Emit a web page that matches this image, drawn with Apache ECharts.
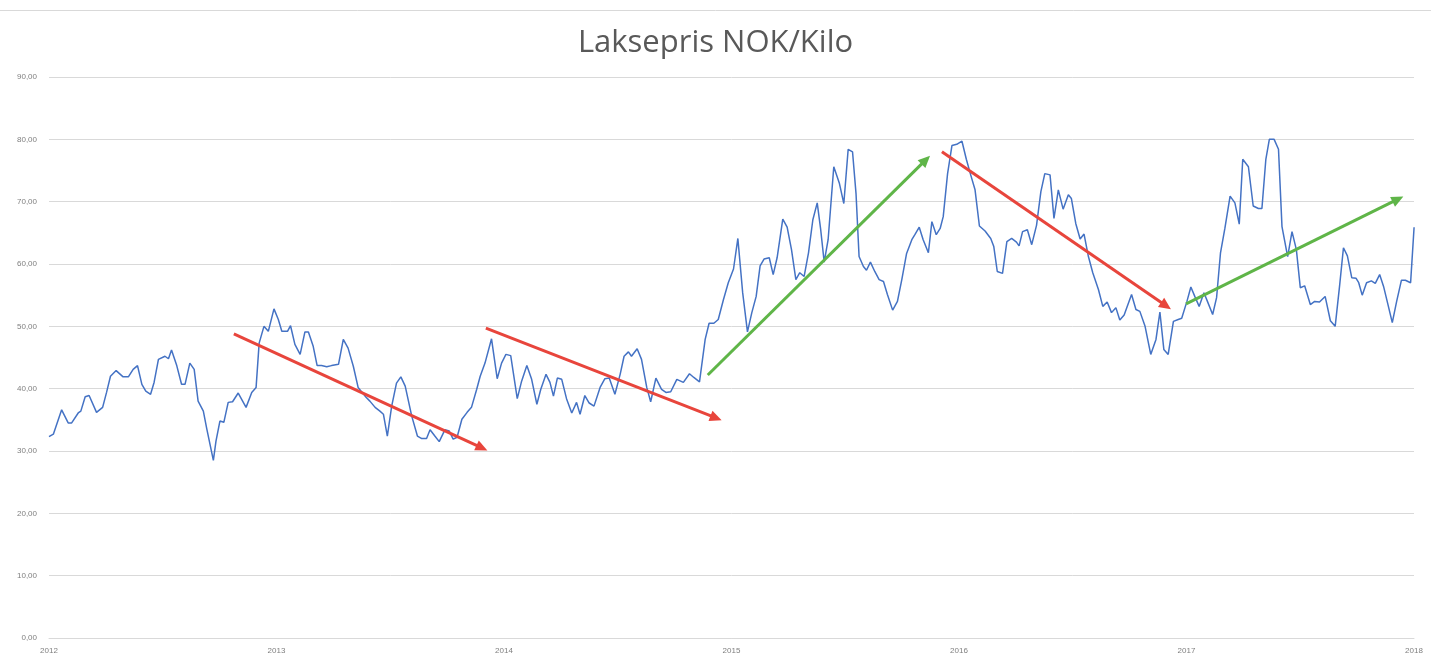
<!DOCTYPE html>
<html>
<head>
<meta charset="utf-8">
<title>Laksepris NOK/Kilo</title>
<script src="https://cdn.jsdelivr.net/npm/echarts@6/dist/echarts.min.js"></script>
<style>
    html, body { margin: 0; padding: 0; background: #fff; }
    #laksChart { width: 1431px; height: 661px; }
</style>
</head>
<body>
<div id="laksChart"></div>
<script>
// uke-nummer fra start 2012 (lest av bildet) og pris NOK/kg
var weekPos = [
    0, 1.0, 2.9, 4.4, 5.2, 6.7, 7.3, 8.3, 9.2, 10.9, 12.3, 13.2, 14.1, 15.4, 17.0, 18.2, 19.3, 20.3, 21.3, 22.2,
    23.3, 24.1, 25.1, 26.6, 27.4, 28.1, 29.3, 30.4, 31.2, 32.3, 33.3, 34.2, 35.4, 36.2, 37.7, 38.3, 39.2, 40.1, 41.1, 42.1,
    43.4, 45.2, 46.5, 47.5, 48.2, 49.3, 50.3, 51.6, 52.6, 53.4, 54.7, 55.4, 56.4, 57.6, 58.7, 59.5, 60.6, 61.5, 62.5, 63.7,
    64.8, 66.4, 67.5, 68.6, 69.8, 70.9, 72.5, 73.6, 74.8, 75.9, 76.7, 77.6, 78.6, 79.7, 80.7, 81.7, 83.2, 84.5, 85.5, 86.6,
    87.4, 88.5, 89.5, 90.8, 91.8, 92.7, 93.6, 94.7, 95.9, 96.9, 98.1, 98.9, 100, 101.5, 102.8, 103.8, 104.8, 105.9, 107.4, 108.4,
    109.6, 110.7, 111.9, 112.8, 114, 114.9, 115.7, 116.6, 117.6, 118.7, 119.9, 121, 121.8, 122.9, 123.9, 125, 126.4, 127.5, 128.5, 129.8,
    131, 131.9, 132.9, 133.6, 134.9, 135.9, 137.1, 138, 139.2, 140.5, 141.5, 142.6, 144, 145.5, 146.9, 147.9, 149.2, 150.5, 151.4, 152.5,
    153.5, 154.7, 155.8, 157, 158, 159.1, 160.2, 161.2, 162.2, 163.1, 164, 165.2, 166.1, 167, 168.3, 169.3, 170.3, 171.3, 172.2, 173.2,
    174.2, 175.2, 176.2, 177, 177.8, 178.7, 180, 181.3, 182.3, 183.3, 184.3, 185.1, 185.8, 186.8, 187.5, 188.4, 189.4, 190.4, 191.4, 192.3,
    193.5, 194.6, 195.6, 196.7, 197.9, 198.6, 199.6, 200.5, 201.7, 202.5, 203.5, 204.4, 205.1, 206.1, 207.1, 208.2, 209.4, 210.4, 211.4, 212.4,
    213.4, 214.7, 216, 216.7, 217.5, 218.7, 219.7, 220.8, 221.9, 222.5, 223.3, 224.4, 225.4, 226.5, 227.5, 228.4, 229.6, 230.5, 231.5, 232.6,
    233.8, 234.5, 235.5, 236.5, 237.4, 238.4, 239.4, 240.7, 241.7, 242.7, 243.7, 244.7, 245.6, 246.6, 247.3, 248.3, 249.3, 250.2, 251.4, 252.7,
    253.9, 254.8, 255.7, 256.7, 257.9, 259, 259.8, 261, 261.9, 262.8, 263.8, 264.9, 265.7, 266.9, 267.8, 268.7, 269.7, 270.9, 272, 273,
    273.8, 275.1, 276.2, 277.4, 278.2, 279.1, 279.9, 281, 282, 282.8, 284.1, 285.1, 286.1, 287, 288, 289.3, 290.3, 291.4, 292.7, 293.9,
    295, 296, 296.9, 297.8, 298.8, 299.8, 300.4, 301.2, 302.2, 303.3, 304.2, 305.2, 306.1, 307, 308.1, 309.1, 310.2, 311.1, 312.3, 313.1
];
var price = [
    32.3, 32.7, 36.6, 34.5, 34.5, 36.1, 36.4, 38.7, 38.9, 36.2, 37, 39.4, 42, 42.9, 41.9, 41.9, 43.1, 43.7, 40.7, 39.6,
    39.1, 41, 44.7, 45.2, 44.8, 46.2, 43.7, 40.7, 40.7, 44.1, 43.1, 38, 36.4, 33.5, 28.5, 31.6, 34.8, 34.6, 37.8, 37.9,
    39.3, 37, 39.4, 40.2, 47.3, 50, 49.2, 52.8, 51.1, 49.2, 49.2, 50.1, 47.1, 45.5, 49.1, 49.1, 46.8, 43.7, 43.7, 43.5,
    43.7, 43.9, 47.9, 46.5, 43.6, 40.2, 38.8, 38, 37, 36.4, 35.9, 32.4, 37.2, 40.9, 41.9, 40.4, 35.6, 32.4, 32, 32,
    33.4, 32.4, 31.5, 33.4, 33.2, 31.9, 32.2, 35.1, 36.2, 37, 39.9, 42, 44.1, 48, 41.6, 44.1, 45.5, 45.3, 38.4, 41.2,
    43.7, 41.5, 37.5, 39.9, 42.3, 41, 38.8, 41.7, 41.5, 38.4, 36.1, 37.8, 35.9, 38.9, 37.7, 37.2, 40.2, 41.6, 41.7, 39.1,
    42.3, 45.2, 45.9, 45.2, 46.4, 44.7, 40.2, 37.9, 41.7, 39.9, 39.4, 39.5, 41.5, 41, 42.4, 41.8, 41.1, 47.9, 50.5, 50.5,
    51.1, 54.3, 57, 59.2, 64.1, 55.4, 49.1, 52.2, 54.8, 59.7, 60.8, 61, 58.3, 61, 67.2, 65.9, 62.3, 57.5, 58.6, 58,
    61.8, 67.1, 69.8, 65.5, 60.3, 63.9, 75.6, 72.9, 69.7, 78.4, 78, 71.3, 61.2, 59.6, 59, 60.3, 58.8, 57.5, 57.2, 55.1,
    52.6, 54, 57.5, 61.7, 63.9, 64.7, 65.9, 63.9, 61.8, 66.8, 64.7, 65.7, 67.6, 74.5, 79, 79.2, 79.7, 76.8, 74.3, 71.9,
    66.1, 65.3, 64.1, 62.8, 58.8, 58.5, 63.6, 64.1, 63.5, 62.9, 65.2, 65.5, 63.1, 66.2, 71.6, 74.5, 74.3, 67.3, 71.9, 68.8,
    71.1, 70.5, 66.5, 64, 64.8, 61.2, 58.6, 55.9, 53.2, 53.9, 52.2, 53, 51, 51.8, 53.2, 55.1, 52.7, 52.4, 50, 45.5,
    47.9, 52.3, 46.3, 45.5, 50.8, 51.1, 51.3, 54, 56.3, 54.8, 53.2, 55.4, 54, 51.9, 54.6, 61.8, 65.7, 70.9, 69.8, 66.4,
    76.8, 75.6, 69.3, 68.9, 68.9, 76.8, 80, 80, 78.4, 66, 61.2, 65.2, 62.3, 56.2, 56.5, 53.5, 54, 53.9, 54.8, 50.9,
    50, 56.4, 62.6, 61.3, 57.8, 57.7, 57, 55, 57, 57.3, 56.9, 58.3, 56.4, 53.8, 50.6, 54, 57.4, 57.4, 57, 65.9
];
var yearLabels = ['2012', '2013', '2014', '2015', '2016', '2017', '2018'];

// trendpiler: [fra uke, fra pris, til uke, til pris]
var redArrows = [
    [42.4, 48.8, 99.3, 30.5],
    [100.2, 49.7, 153, 35.3],
    [204.8, 78, 256.2, 53.3]
];
var greenArrows = [
    [151.1, 42.2, 201.1, 76.7],
    [260.8, 53.6, 309.4, 70.4]
];

var WEEKS_PER_YEAR = 52.18;
var firstYear = parseInt(yearLabels[0], 10);

function weekToYear(w) {
    return firstYear + w / WEEKS_PER_YEAR;
}

function buildArrowData(list) {
    return list.map(function (a) {
        return [
            { coord: [weekToYear(a[0]), a[1]] },
            { coord: [weekToYear(a[2]), a[3]] }
        ];
    });
}

function arrowSeries(name, color, list) {
    return {
        name: name,
        type: 'line',
        data: [],
        silent: true,
        markLine: {
            silent: true,
            animation: false,
            symbol: ['none', 'triangle'],
            symbolSize: [11, 12],
            label: { show: false },
            emphasis: { disabled: true },
            lineStyle: { color: color, width: 3, type: 'solid' },
            data: buildArrowData(list)
        }
    };
}

var chart = echarts.init(document.getElementById('laksChart'));

var lineData = [];
for (var i = 0; i < weekPos.length; i++) {
    lineData.push([weekToYear(weekPos[i]), price[i]]);
}

var option = {
    backgroundColor: '#ffffff',
    animation: false,
    title: {
        text: 'Laksepris NOK/Kilo',
        left: 'center',
        top: 23,
        textStyle: {
            fontFamily: 'Open Sans',
            fontSize: 31,
            fontWeight: 'normal',
            color: '#595959'
        }
    },
    graphic: [{
        type: 'line',
        shape: { x1: 0, y1: 10.5, x2: 1431, y2: 10.5 },
        style: { stroke: '#d9d9d9', lineWidth: 1 },
        silent: true
    }],
    grid: {
        left: 49,
        right: 17,
        top: 77,
        bottom: 23
    },
    xAxis: {
        type: 'value',
        min: firstYear,
        max: firstYear + yearLabels.length - 1,
        interval: 1,
        axisLine: { show: true, lineStyle: { color: '#d9d9d9' } },
        axisTick: { show: false },
        splitLine: { show: false },
        axisLabel: {
            margin: 9,
            fontSize: 8,
            fontFamily: 'Liberation Sans',
            color: '#7f7f7f',
            formatter: function (v) {
                var idx = Math.round(v - firstYear);
                return yearLabels[idx] || '';
            }
        }
    },
    yAxis: {
        type: 'value',
        min: 0,
        max: 90,
        interval: 10,
        axisLine: { show: false },
        axisTick: { show: false },
        splitLine: { lineStyle: { color: '#d9d9d9', width: 1 } },
        axisLabel: {
            margin: 12,
            fontSize: 8,
            fontFamily: 'Liberation Sans',
            color: '#7f7f7f',
            formatter: function (v) {
                return v.toFixed(2).replace('.', ',');
            }
        }
    },
    series: [
        {
            name: 'Laksepris',
            type: 'line',
            data: lineData,
            showSymbol: false,
            symbol: 'none',
            lineStyle: { color: '#4472c4', width: 1.5 },
            z: 2
        },
        arrowSeries('ned', '#e8453c', redArrows),
        arrowSeries('opp', '#5fb548', greenArrows)
    ]
};

chart.setOption(option);
</script>
</body>
</html>
